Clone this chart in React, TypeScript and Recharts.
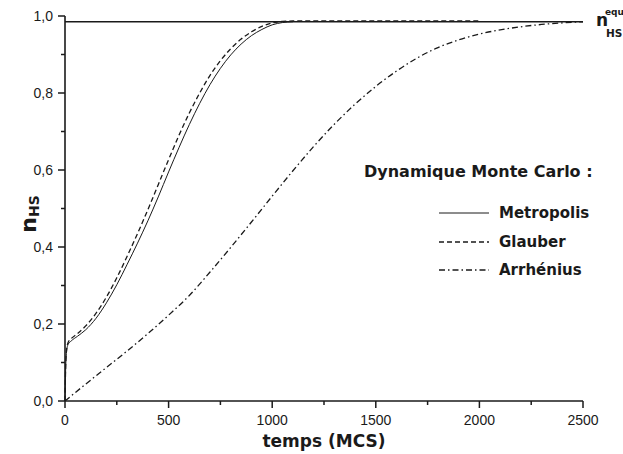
import { LineChart, Line, XAxis, YAxis, ReferenceLine, Legend } from 'recharts'

// Monte Carlo time (MCS) and high-spin fraction for each dynamics
const metropolisT = [0, 3, 8, 15, 30, 60, 100, 150, 200, 250, 300, 350, 400, 450, 500, 550, 600, 650, 700, 750, 800, 850, 900, 950, 1000, 1050, 1100]
const metropolisN = [0, 0.08, 0.13, 0.147, 0.156, 0.168, 0.185, 0.215, 0.255, 0.302, 0.355, 0.41, 0.468, 0.53, 0.595, 0.658, 0.718, 0.773, 0.822, 0.864, 0.899, 0.927, 0.949, 0.965, 0.977, 0.983, 0.985]

const glauberT = [0, 3, 8, 15, 30, 60, 100, 150, 200, 250, 300, 350, 400, 450, 500, 550, 600, 650, 700, 750, 800, 850, 900, 950, 1000, 1050, 1100, 2000]
const glauberN = [0, 0.085, 0.135, 0.152, 0.162, 0.175, 0.195, 0.228, 0.27, 0.32, 0.376, 0.435, 0.497, 0.562, 0.627, 0.69, 0.748, 0.8, 0.846, 0.884, 0.915, 0.94, 0.959, 0.973, 0.982, 0.986, 0.987, 0.987]

const arrheniusT = [0, 100, 200, 300, 400, 500, 600, 700, 800, 900, 1000, 1100, 1200, 1300, 1400, 1500, 1600, 1700, 1800, 1900, 2000, 2100, 2200, 2300, 2400, 2500]
const arrheniusN = [0, 0.044, 0.087, 0.13, 0.175, 0.223, 0.274, 0.335, 0.399, 0.465, 0.532, 0.598, 0.661, 0.719, 0.771, 0.817, 0.857, 0.891, 0.918, 0.938, 0.953, 0.964, 0.972, 0.978, 0.982, 0.985]

const eqLevel = 0.985

const xTicks = [0, 250, 500, 750, 1000, 1250, 1500, 1750, 2000, 2250, 2500]
const yTicks = [0, 0.1, 0.2, 0.3, 0.4, 0.5, 0.6, 0.7, 0.8, 0.9, 1.0]

const toRows = (ts: number[], ns: number[]) => ts.map((t, i) => ({ t, n: ns[i] }))

const series = [
  { name: 'Metropolis', data: toRows(metropolisT, metropolisN), dash: undefined as string | undefined, width: 1 },
  { name: 'Glauber', data: toRows(glauberT, glauberN), dash: '5 3', width: 1.3 },
  { name: 'Arrhénius', data: toRows(arrheniusT, arrheniusN), dash: '6 3 1.5 3', width: 1.3 },
]

const INK = '#1a1a1a'
const tickFont = '"Liberation Sans", Arial, sans-serif'
const titleFont = '"Comic Sans MS", "DejaVu Sans", sans-serif'

const XTick = (props: any) => {
  const { x, y, payload } = props
  const major = payload.value % 500 === 0
  return (
    <g>
      <line x1={x} x2={x} y1={y} y2={y + (major ? 7 : 4)} stroke={INK} strokeWidth={1.5} />
      {major && (
        <text x={x} y={y + 24} textAnchor="middle" fontFamily={tickFont} fontSize={14} fill={INK}>
          {payload.value}
        </text>
      )}
    </g>
  )
}

const YTick = (props: any) => {
  const { x, y, payload } = props
  const major = Math.round(payload.value * 10) % 2 === 0
  return (
    <g>
      <line x1={x} x2={x - (major ? 7 : 4)} y1={y} y2={y} stroke={INK} strokeWidth={1.5} />
      {major && (
        <text x={x - 12} y={y + 5} textAnchor="end" fontFamily={tickFont} fontSize={14} fill={INK}>
          {payload.value.toFixed(1).replace('.', ',')}
        </text>
      )}
    </g>
  )
}

const YTitle = () => (
  <text
    transform="translate(36, 214) rotate(-90)"
    textAnchor="middle"
    fontFamily={titleFont}
    fontWeight="bold"
    fill={INK}
  >
    <tspan fontSize={22}>n</tspan>
    <tspan fontSize={14} dy={3}>HS</tspan>
  </text>
)

const EqLabel = (props: any) => {
  const vb = props.viewBox || {}
  const xr = (vb.x ?? 0) + (vb.width ?? 0)
  const y = vb.y ?? 0
  return (
    <g fontFamily={titleFont} fontWeight="bold" fill={INK}>
      <text x={xr + 13} y={y + 4} fontSize={17}>n</text>
      <text x={xr + 22} y={y - 7} fontSize={9}>equ</text>
      <text x={xr + 23} y={y + 15} fontSize={10.5}>HS</text>
    </g>
  )
}

const LegendBox = () => (
  <div style={{ fontFamily: titleFont, fontWeight: 'bold', color: INK }}>
    <div style={{ fontSize: 16, height: 24, lineHeight: '24px', whiteSpace: 'nowrap' }}>Dynamique Monte Carlo :</div>
    <div style={{ marginTop: 15 }}>
      {series.map((s) => (
        <div key={s.name} style={{ display: 'flex', alignItems: 'center', height: 28.5, marginLeft: 75 }}>
          <svg width={52} height={8}>
            <line x1={0} x2={50} y1={4} y2={4} stroke={INK} strokeWidth={s.width} strokeDasharray={s.dash} />
          </svg>
          <span style={{ marginLeft: 8, fontSize: 15 }}>{s.name}</span>
        </div>
      ))}
    </div>
  </div>
)

export default function App() {
  return (
    <div style={{ position: 'absolute', left: 0, top: 0, background: '#fff' }}>
      <LineChart width={623} height={454} margin={{ top: 16, right: 40, bottom: 0, left: 0 }}>
        <XAxis
          type="number"
          dataKey="t"
          domain={[0, 2500]}
          ticks={xTicks}
          interval={0}
          height={53}
          tickSize={0}
          tickMargin={0}
          tickLine={false}
          tick={<XTick />}
          axisLine={{ stroke: INK, strokeWidth: 1.6 }}
          label={{
            value: 'temps (MCS)',
            position: 'insideBottom',
            offset: 7,
            style: { fontFamily: titleFont, fontWeight: 'bold', fontSize: 17, fill: INK },
          }}
        />
        <YAxis
          type="number"
          domain={[0, 1]}
          ticks={yTicks}
          interval={0}
          width={65}
          tickSize={0}
          tickMargin={0}
          tickLine={false}
          tick={<YTick />}
          axisLine={{ stroke: INK, strokeWidth: 1.6 }}
          label={<YTitle />}
        />
        <ReferenceLine y={eqLevel} stroke={INK} strokeWidth={1.4} label={<EqLabel />} />
        {series.map((s) => (
          <Line
            key={s.name}
            data={s.data}
            dataKey="n"
            name={s.name}
            type="monotone"
            stroke={INK}
            strokeWidth={s.width}
            strokeDasharray={s.dash}
            dot={false}
            activeDot={false}
            isAnimationActive={false}
          />
        ))}
        <Legend
          layout="horizontal"
          verticalAlign="middle"
          content={<LegendBox />}
          wrapperStyle={{ top: 160, left: 364, width: 259, right: 'auto', bottom: 'auto' }}
        />
      </LineChart>
    </div>
  )
}
